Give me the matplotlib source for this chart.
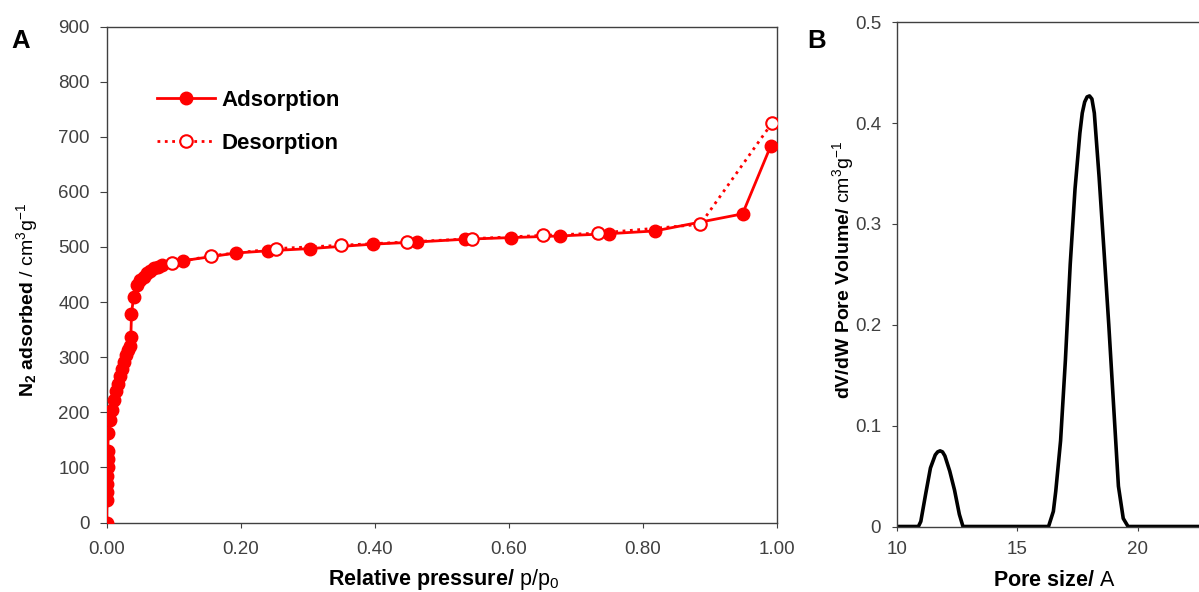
import matplotlib
matplotlib.use("Agg")
import matplotlib.pyplot as plt

plt.rcParams['font.family'] = ['Liberation Sans', 'DejaVu Sans']
plt.rcParams['mathtext.fontset'] = 'custom'
plt.rcParams['mathtext.rm'] = 'Liberation Sans'
plt.rcParams['mathtext.bf'] = 'Liberation Sans:bold'
plt.rcParams['mathtext.it'] = 'Liberation Sans:italic'

# ---- Panel A data: N2 isotherm ----
ads_p = [0, 0.0004, 0.0006, 0.0008, 0.001, 0.0012, 0.0014, 0.0016, 0.0024, 0.005,
         0.008, 0.011, 0.014, 0.017, 0.020, 0.023, 0.026, 0.029, 0.032, 0.035,
         0.036, 0.037, 0.040, 0.045, 0.050, 0.055, 0.060, 0.065, 0.070, 0.076,
         0.082, 0.114, 0.193, 0.241, 0.303, 0.397, 0.463, 0.535, 0.604, 0.677,
         0.749, 0.818, 0.949, 0.991]
ads_v = [0, 40, 55, 70, 85, 100, 115, 130, 162, 186,
         205, 222, 238, 252, 265, 278, 292, 304, 313, 320,
         336, 378, 409, 431, 440, 446, 452, 457, 461, 464,
         467, 475, 489, 493, 497, 505, 509, 514, 517, 520,
         524, 529, 560, 683]
des_p = [0.9925, 0.886, 0.734, 0.651, 0.545, 0.448, 0.349, 0.253, 0.155, 0.097]
des_v = [724, 541, 525, 521, 515, 509, 503, 497, 484, 470]

a_xticks = [0.0, 0.2, 0.4, 0.6, 0.8, 1.0]
a_xticklabels = ['0.00', '0.20', '0.40', '0.60', '0.80', '1.00']
a_yticks = [0, 100, 200, 300, 400, 500, 600, 700, 800, 900]

# ---- Panel B data: pore size distribution ----
pore_w = [10.0, 10.9, 11.0, 11.2, 11.4, 11.6, 11.7, 11.8, 11.9, 12.0, 12.2, 12.4,
          12.6, 12.75, 16.3, 16.5, 16.6, 16.8, 17.0, 17.2, 17.4, 17.6, 17.7, 17.8,
          17.9, 18.0, 18.1, 18.2, 18.4, 18.6, 18.8, 19.0, 19.2, 19.4, 19.6, 25.0]
pore_dv = [0, 0, 0.005, 0.032, 0.058, 0.071, 0.074, 0.075, 0.074, 0.070, 0.055, 0.036,
           0.012, 0, 0, 0.015, 0.035, 0.085, 0.165, 0.26, 0.335, 0.39, 0.41, 0.421,
           0.426, 0.427, 0.424, 0.41, 0.346, 0.274, 0.20, 0.12, 0.04, 0.008, 0, 0]
b_xticks = [10, 15, 20]
b_yticks = [0, 0.1, 0.2, 0.3, 0.4, 0.5]
b_yticklabels = ['0', '0.1', '0.2', '0.3', '0.4', '0.5']

W, H = 1199, 592
fig = plt.figure(figsize=(W / 100, H / 100), dpi=100)

red = '#ff0000'
tick_col = '#404040'
spine_col = '#404040'
tick_fs = 13.5
xlab_fs = 15.5
ylab_fs = 14


def fx(px):
    return px / W


def fy(py):
    return 1 - py / H


# Panel A: axes 0..1 spans px 106.7..776.7, 0..900 spans py 522.5..26.5
axA = fig.add_axes([fx(106.7), fy(522.5), 670 / W, 496 / H])
axA.plot(ads_p, ads_v, '-', color=red, lw=2.0, marker='o', ms=9,
         mfc=red, mec=red, label='Adsorption', zorder=3)
axA.plot(des_p, des_v, ':', color=red, lw=2.0, marker='o', ms=9,
         mfc='white', mec=red, mew=1.5, label='Desorption', zorder=4)
axA.set_xlim(0, 1.0)
axA.set_ylim(0, 900)
axA.set_xticks(a_xticks)
axA.set_xticklabels(a_xticklabels)
axA.set_yticks(a_yticks)
axA.tick_params(axis='x', direction='out', length=3.6, labelsize=tick_fs,
                colors=tick_col, pad=9.5)
axA.tick_params(axis='y', direction='out', length=4.8, labelsize=tick_fs,
                colors=tick_col, pad=7.5)
for s in axA.spines.values():
    s.set_color(spine_col)
    s.set_linewidth(1.0)
axA.legend(loc='upper left', bbox_to_anchor=(0.075, 0.872), frameon=False,
           prop={'weight': 'bold', 'size': 16},
           handlelength=2.6, handletextpad=0.32, labelspacing=1.0,
           borderpad=0, borderaxespad=0)

fig.text(fx(444), fy(585.5), r'$\mathbf{Relative\ pressure/}$ p/p$_0$',
         fontsize=xlab_fs, ha='center', va='baseline')
fig.text(fx(33.5), fy(300), r'$\mathbf{N_2\ adsorbed}$ / cm$^3$g$^{-1}$',
         fontsize=ylab_fs, ha='center', va='baseline', rotation=90,
         rotation_mode='anchor')

# Panel B: 10..25 spans px 896.7..1258.2, 0..0.5 spans py 526.5..22.3
axB = fig.add_axes([fx(896.7), fy(526.5), 361.5 / W, 504.2 / H])
axB.plot(pore_w, pore_dv, '-', color='black', lw=2.6, solid_joinstyle='round',
         solid_capstyle='round')
axB.set_xlim(10, 25)
axB.set_ylim(0, 0.5)
axB.set_xticks(b_xticks)
axB.set_yticks(b_yticks)
axB.set_yticklabels(b_yticklabels)
axB.tick_params(axis='x', direction='out', length=3.2, labelsize=tick_fs,
                colors=tick_col, pad=7.5)
axB.tick_params(axis='y', direction='out', length=3.8, labelsize=tick_fs,
                colors=tick_col, pad=7.5)
for s in axB.spines.values():
    s.set_color(spine_col)
    s.set_linewidth(1.0)

fig.text(fx(1054), fy(586.5), r'$\mathbf{Pore\ size/}$ A',
         fontsize=xlab_fs, ha='center', va='baseline')
fig.text(fx(849), fy(270), r'$\mathbf{dV/dW\ Pore\ Volume/}$ cm$^3$g$^{-1}$',
         fontsize=ylab_fs, ha='center', va='baseline', rotation=90,
         rotation_mode='anchor')

fig.text(fx(11.5), fy(48.3), 'A', fontsize=18.5, fontweight='bold', va='baseline')
fig.text(fx(807), fy(48.5), 'B', fontsize=18.5, fontweight='bold', va='baseline')

fig.savefig('out.png', dpi=100)
